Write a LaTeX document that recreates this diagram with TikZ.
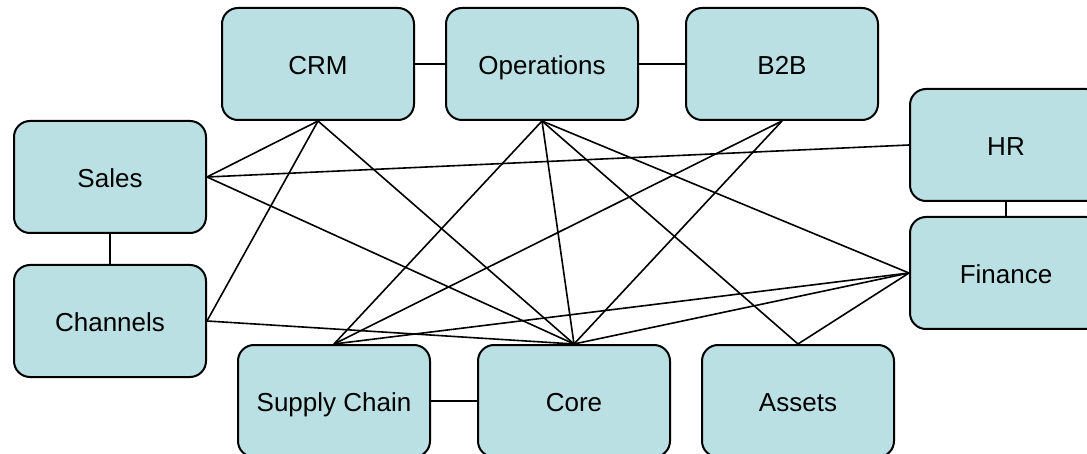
\documentclass[tikz,border=0pt]{standalone}
\usepackage{fontspec}
\setmainfont{Liberation Sans}
\begin{document}
\begin{tikzpicture}[x=1pt,y=-1pt,
  box/.style={draw=black,line width=2pt,fill=boxfill,rounded corners=16pt,
    minimum width=192pt,minimum height=112pt,inner sep=0pt,
    text height=20.5pt,text depth=0pt,
    font=\fontsize{26}{30}\selectfont},
  link/.style={draw=black,line width=1.6pt}]
\definecolor{boxfill}{RGB}{186,224,227}
\useasboundingbox (0,0) rectangle (1087,454);
\clip (0,0) rectangle (1087,454);
\node[box] (crm) at (318,64) {CRM};
\node[box] (ops) at (542,64) {Operations};
\node[box] (b2b) at (782,64) {B2B};
\node[box] (sales) at (110,177) {Sales};
\node[box] (hr) at (1006,145) {HR};
\node[box] (fin) at (1006,273) {Finance};
\node[box] (chan) at (110,321) {Channels};
\node[box] (sc) at (334,401) {Supply Chain};
\node[box] (core) at (574,401) {Core};
\node[box] (assets) at (798,401) {Assets};
\path[link] (crm.east) -- (ops.west);
\path[link] (ops.east) -- (b2b.west);
\path[link] (sales.south) -- (chan.north);
\path[link] (hr.south) -- (fin.north);
\path[link] (sc.east) -- (core.west);
\path[link] (sales.east) -- (crm.south);
\path[link] (sales.east) -- (hr.west);
\path[link] (sales.east) -- (core.north);
\path[link] (crm.south) -- (chan.east);
\path[link] (crm.south) -- (core.north);
\path[link] (ops.south) -- (sc.north);
\path[link] (ops.south) -- (core.north);
\path[link] (ops.south) -- (assets.north);
\path[link] (ops.south) -- (fin.west);
\path[link] (b2b.south) -- (sc.north);
\path[link] (b2b.south) -- (core.north);
\path[link] (fin.west) -- (sc.north);
\path[link] (fin.west) -- (core.north);
\path[link] (fin.west) -- (assets.north);
\path[link] (chan.east) -- (core.north);
\end{tikzpicture}
\end{document}
